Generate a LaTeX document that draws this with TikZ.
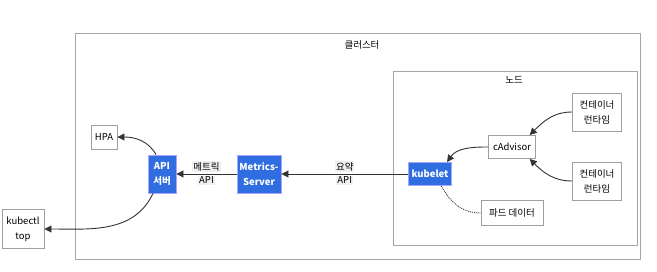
\documentclass[tikz,border=0pt]{standalone}
\usepackage{fontspec}
\setmainfont{Noto Sans CJK KR}
\usetikzlibrary{arrows.meta,positioning}

\definecolor{kblue}{HTML}{2F6DE1}
\definecolor{kedge}{HTML}{333333}

\begin{document}
\begin{tikzpicture}[
    x=1pt, y=-1pt,
    group/.style={draw=gray!70, line width=0.8pt},
    plain/.style={draw=gray!75, line width=0.9pt, fill=white, align=center, inner sep=2pt, font=\fontsize{9.5}{15}\selectfont},
    core/.style={plain, draw=blue!35, fill=kblue, text=white, font=\fontsize{9.5}{15}\selectfont\bfseries},
    link/.style={-{Stealth[length=7pt, width=7pt, inset=0pt]}, draw=kedge, line width=0.9pt},
    tag/.style={fill=gray!12, inner sep=1pt, font=\fontsize{9.5}{11}\selectfont}
]
\useasboundingbox (0,0) rectangle (657,272);
% groups
\draw[group] (75,33) rectangle (640,259);
\node[font=\fontsize{9.5}{11}\selectfont] (clustertitle) at (362,45) {클러스터};
\draw[group] (393,71) rectangle (637,245);
\node[font=\fontsize{9.5}{11}\selectfont] (nodetitle) at (514,80) {노드};
% boxes
\node[plain, minimum width=26pt, minimum height=24pt] (hpa) at (104,137) {HPA};
\node[core, minimum width=28pt, minimum height=38pt] (api) at (162,174) {API\\서버};
\node[core, minimum width=44pt, minimum height=38pt] (metrics) at (259,174) {Metrics-\\Server};
\node[core, minimum width=43pt, minimum height=23pt] (kubelet) at (430,174) {kubelet};
\node[plain, minimum width=47pt, minimum height=23pt] (cadvisor) at (512,147) {cAdvisor};
\node[plain, minimum width=49pt, minimum height=38pt] (runtimeA) at (597,112) {컨테이너\\런타임};
\node[plain, minimum width=49pt, minimum height=38pt] (runtimeB) at (597,181) {컨테이너\\런타임};
\node[plain, minimum width=62pt, minimum height=25pt] (poddata) at (512,213) {파드 데이터};
\node[plain, minimum width=42pt, minimum height=39pt] (kubectl) at (23,229) {kubectl\\top};
% connectors
\draw[link] (metrics) -- node[tag, above=1.5pt] (lblmetric) {메트릭} node[tag, below=1.5pt] (lblmetricapi) {API} (api);
\draw[link] (kubelet) -- node[tag, above=1.5pt] (lblsummary) {요약} node[tag, below=1.5pt] (lblsummaryapi) {API} (metrics);
\draw[link] (cadvisor.west) to[out=180, in=55] (kubelet.35);
\draw[link] (runtimeA.west) to[out=180, in=45] (cadvisor.34);
\draw[link] (runtimeB.west) to[out=180, in=-45] (cadvisor.-34);
\draw[kedge, densely dotted, line width=0.9pt] (kubelet.-47) to[out=-60, in=180] (poddata.west);
\draw[link] (api.107) to[out=120, in=0] (hpa.east);
\draw[link] (api.-115) to[out=-115, in=0] (kubectl.east);
\end{tikzpicture}
\end{document}
